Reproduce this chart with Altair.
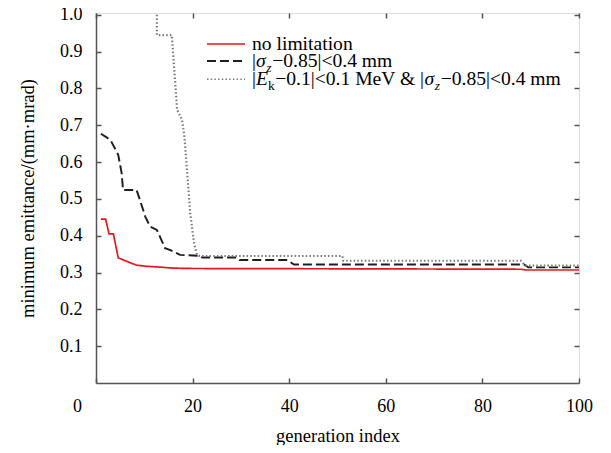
import altair as alt
import pandas as pd

# ---- data ----
series_names = ["no limitation", "sigma_z", "Ek_and_sigma_z"]

red_gen = [1, 2, 2.7, 3.6, 4.6, 5.7, 7, 8.4, 10.5, 13, 16, 20, 58, 88, 89, 100]
red_val = [0.445, 0.445, 0.405, 0.405, 0.34, 0.334, 0.327, 0.32, 0.317, 0.315,
           0.312, 0.311, 0.31, 0.309, 0.307, 0.307]

dash_gen = [1, 2.2, 3.0, 4.6, 5.3, 5.6, 8.4, 9.1, 10.2, 11.2, 12.6, 14.3, 15.4,
            17.4, 21.6, 22, 29, 29.7, 39.6, 41, 88.6, 89.5, 100]
dash_val = [0.677, 0.667, 0.66, 0.62, 0.571, 0.524, 0.524, 0.497, 0.452, 0.425,
            0.416, 0.366, 0.361, 0.348, 0.345, 0.341, 0.341, 0.334, 0.334, 0.322,
            0.322, 0.314, 0.314]

dot_gen = [12.6, 12.6, 15.7, 16.8, 17.8, 18.3, 19.0, 19.5, 20.3, 20.9, 21.5, 51,
           51.2, 88, 88.8, 100]
dot_val = [1.0, 0.945, 0.945, 0.742, 0.715, 0.67, 0.552, 0.462, 0.38, 0.348,
           0.345, 0.345, 0.332, 0.332, 0.319, 0.319]

x_ticks = [0, 20, 40, 60, 80, 100]
y_ticks = [0.1, 0.2, 0.3, 0.4, 0.5, 0.6, 0.7, 0.8, 0.9, 1.0]

rows = []
for name, gs, vs in zip(series_names, [red_gen, dash_gen, dot_gen], [red_val, dash_val, dot_val]):
    for i, (g, v) in enumerate(zip(gs, vs)):
        rows.append({"series": name, "gen": g, "emit": v, "order": i})
df = pd.DataFrame(rows)

# ---- styling ----
FONT = "Liberation Serif"
W, H = 483, 370
colors = ["#e8161e", "#1e1e1e", "#7a7a7a"]
dashes = [[1, 0], [9, 4], [1.5, 2.2]]
widths = [1.7, 2.2, 1.6]

x_scale = alt.Scale(domain=[0, 100], nice=False, zero=False)
y_scale = alt.Scale(domain=[0, 1.005], nice=False, zero=False)

color_enc = alt.Color("series:N", scale=alt.Scale(domain=series_names, range=colors), legend=None)
dash_enc = alt.StrokeDash("series:N", scale=alt.Scale(domain=series_names, range=dashes), legend=None)
width_enc = alt.StrokeWidth("series:N", scale=alt.Scale(domain=series_names, range=widths), legend=None)

inward = alt.ExprRef(expr="-5")

x_axis = alt.Axis(values=x_ticks, format="d", title="generation index",
                  titleFont=FONT, titleFontSize=18.5, titleFontWeight="normal",
                  titleColor="black", titleY=58, titleBaseline="alphabetic",
                  labelFont=FONT, labelFontSize=18, labelColor="black",
                  labelPadding=19, labelFlush=False,
                  labelOffset={"condition": {"test": "datum.value == 0", "value": -19}, "value": 0},
                  tickSize=inward, tickColor="#555", tickWidth=1.5,
                  domainColor="#555", domainWidth=1.5, grid=False)
y_axis = alt.Axis(values=y_ticks, format=".1f", title="minimum emittance/(mm\u00b7mrad)",
                  titleFont=FONT, titleFontSize=18.5, titleFontWeight="normal",
                  titleColor="black", titleX=-63, titleBaseline="alphabetic",
                  labelFont=FONT, labelFontSize=18, labelColor="black",
                  labelPadding=19,
                  tickSize=inward, tickColor="#555", tickWidth=1.5,
                  domainColor="#555", domainWidth=1.5, grid=False)

lines = alt.Chart(df).mark_line(interpolate="linear", clip=True).encode(
    x=alt.X("gen:Q", scale=x_scale, axis=x_axis),
    y=alt.Y("emit:Q", scale=y_scale, axis=y_axis),
    color=color_enc, strokeDash=dash_enc, strokeWidth=width_enc,
    order="order:Q",
    detail="series:N",
)

x_top = alt.Axis(orient="top", values=x_ticks, labels=False, title=None, domain=False,
                 tickSize=inward, tickColor="#555", tickWidth=1.5, grid=False)
y_right = alt.Axis(orient="right", values=y_ticks, labels=False, title=None, domain=False,
                   tickSize=inward, tickColor="#555", tickWidth=1.5, grid=False)

mirror = alt.Chart(df).mark_line(strokeOpacity=0).encode(
    x=alt.X("gen:Q", scale=x_scale, axis=x_top),
    y=alt.Y("emit:Q", scale=y_scale, axis=y_right),
    detail="series:N",
)

# ---- manual legend (to allow subscripts) ----
UPR = {" ": 250, "|": 200, "\u2212": 564, ".": 250, "<": 564, "m": 778, "M": 889,
       "e": 444, "V": 722, "&": 778, "k": 500, "n": 500, "o": 500, "l": 278,
       "i": 278, "t": 278, "a": 444}
ITA = {"E": 611, "z": 389, "\u03c3": 530}


def text_w(t, size, italic):
    tbl = ITA if italic else UPR
    return sum(tbl.get(c, 500) for c in t) / 1000.0 * size


LF, SF = 19.6, 13.5
sym_x0, sym_x1, txt_x = 111, 149, 156
row_sym_y = [31, 48, 66.3]
row_base_y = [37, 54, 72]

legend_rows = [
    [("no limitation", False, False)],
    [("|", False, False), ("\u03c3", True, False), ("z", True, True),
     ("\u22120.85|<0.4 mm", False, False)],
    [("|", False, False), ("E", True, False), ("k", False, True),
     ("\u22120.1|<0.1 MeV & |", False, False), ("\u03c3", True, False), ("z", True, True),
     ("\u22120.85|<0.4 mm", False, False)],
]

one = pd.DataFrame({"k": [0]})
legend_layers = []
for i in range(3):
    legend_layers.append(
        alt.Chart(one).mark_rule(color=colors[i], strokeDash=dashes[i], strokeWidth=widths[i]).encode(
            x=alt.value(sym_x0), x2=alt.value(sym_x1), y=alt.value(row_sym_y[i]))
    )
    x = txt_x
    for t, ital, sub in legend_rows[i]:
        size = SF if sub else LF
        yy = row_base_y[i] + (4.5 if sub else 0)
        legend_layers.append(
            alt.Chart(one).mark_text(text=t, align="left", baseline="alphabetic", font=FONT,
                                     fontSize=size, fontStyle="italic" if ital else "normal",
                                     color="black").encode(x=alt.value(x), y=alt.value(yy))
        )
        x += text_w(t, size, ital) + (0.6 if sub else 0)

chart = alt.layer(lines, mirror, *legend_layers).resolve_axis(
    x="independent", y="independent"
).properties(
    width=W, height=H,
    autosize=alt.AutoSizeParams(type="none"),
    padding={"left": 88, "top": 5, "right": 24, "bottom": 62},
).configure_view(stroke="#888", strokeWidth=1.5).configure(background="white")

chart.save("out.html", embed_options={"renderer": "svg", "actions": False})
